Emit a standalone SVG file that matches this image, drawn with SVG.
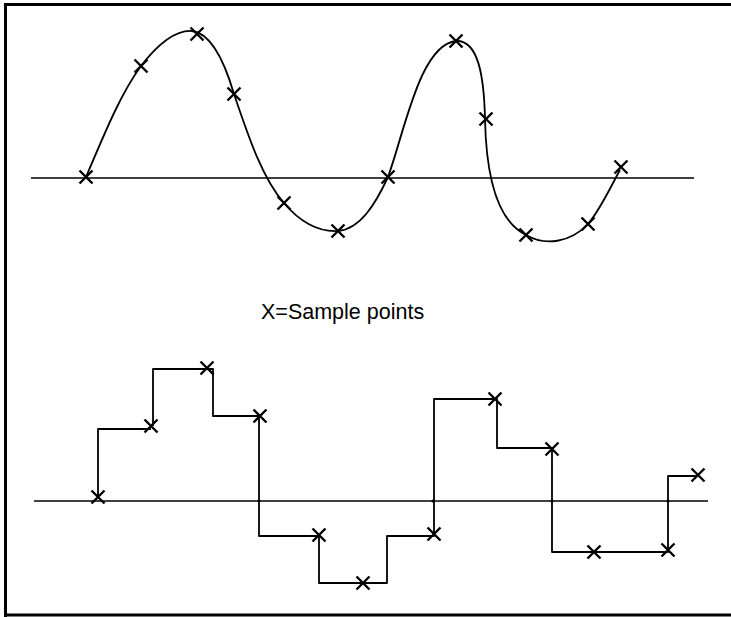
<svg xmlns="http://www.w3.org/2000/svg" xmlns:xlink="http://www.w3.org/1999/xlink" width="731" height="617" viewBox="0 0 731 617">
<style>
.frame{stroke:#000;stroke-width:3;fill:none}
.axis{stroke:#000;stroke-width:1.3;fill:none}
.wave{stroke:#000;stroke-width:1.8;fill:none;stroke-linejoin:round}
.mk{stroke:#000;stroke-width:2.4;fill:none}
.lbl{font-family:"Liberation Sans",Arial,sans-serif;font-size:21.5px;fill:#000}
</style>
<defs>
<path id="x" class="mk" d="M-6.5,-6.5 L6.5,6.5 M6.5,-6.5 L-6.5,6.5"/>
</defs>
<rect width="731" height="617" fill="#fff"/>
<g id="frame">
<path class="frame" d="M5.5,617 V4.5 H731 M5.5,615 H731"/>
</g>
<g id="top-plot">
<line class="axis" x1="31" y1="178" x2="694" y2="178"/>
<path class="wave" d="M86,177 C108,125 122,92 141,66 C158,44 175,30 192,31 C210,33 224,60 234,94 C248,135 262,178 284,203 C300,222 318,232 338,231 C360,229 375,205 388,177 C405,130 420,45 456,41 C478,40 484,75 485,119 C486,170 495,220 526,235 C545,246 570,243 588,224 C600,210 610,188 620,170"/>
<g id="top-samples">
<use xlink:href="#x" x="86" y="177"/>
<use xlink:href="#x" x="141" y="66"/>
<use xlink:href="#x" x="197" y="34"/>
<use xlink:href="#x" x="234" y="94"/>
<use xlink:href="#x" x="284" y="203"/>
<use xlink:href="#x" x="338" y="231"/>
<use xlink:href="#x" x="388" y="177"/>
<use xlink:href="#x" x="456" y="41"/>
<use xlink:href="#x" x="486" y="119"/>
<use xlink:href="#x" x="526" y="235"/>
<use xlink:href="#x" x="588" y="224"/>
<use xlink:href="#x" x="621" y="167"/>
</g>
</g>
<g id="legend">
<text class="lbl" x="261" y="319">X=Sample points</text>
</g>
<g id="bottom-plot">
<line class="axis" x1="34" y1="501" x2="708" y2="501"/>
<path class="wave" d="M98,498 V429 H151 M153,426 V369 H207 H213 V416 H259 V536 H319 V583 H363 H387 V536 H434 V399 H496 H497 V448 H552 V552 H668 V476 H698"/>
<g fill="#000">
<circle cx="259" cy="501" r="1.6"/>
<circle cx="433" cy="501" r="1.6"/>
<circle cx="552" cy="501" r="1.6"/>
<circle cx="668" cy="501" r="1.6"/>
</g>
<g id="bottom-samples">
<use xlink:href="#x" x="98" y="497"/>
<use xlink:href="#x" x="151" y="426"/>
<use xlink:href="#x" x="207" y="368"/>
<use xlink:href="#x" x="260" y="416"/>
<use xlink:href="#x" x="319" y="535"/>
<use xlink:href="#x" x="363" y="583"/>
<use xlink:href="#x" x="434" y="534"/>
<use xlink:href="#x" x="495" y="399"/>
<use xlink:href="#x" x="552" y="449"/>
<use xlink:href="#x" x="594" y="552"/>
<use xlink:href="#x" x="668" y="550"/>
<use xlink:href="#x" x="698" y="475"/>
</g>
</g>
</svg>
